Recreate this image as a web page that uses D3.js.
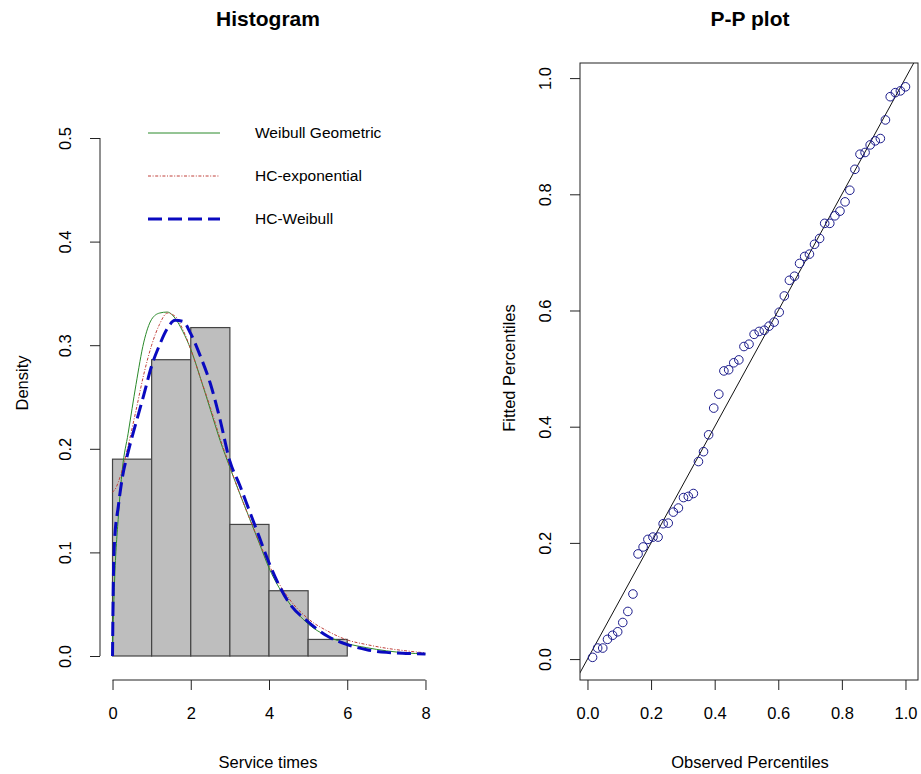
<!DOCTYPE html>
<html>
<head>
<meta charset="utf-8">
<script src="https://cdn.jsdelivr.net/npm/d3@7"></script>
<style>
    body { margin: 0; background: #fff; }
    svg text { font-family: "Liberation Sans", Arial, sans-serif; fill: #000; }
</style>
</head>
<body>
<div id="chart"></div>
<script>

// ---- histogram data (service times) ----
const histBreaks = [0, 1, 2, 3, 4, 5, 6];
const histDensity = [0.190, 0.286, 0.317, 0.127, 0.063, 0.016];

// fitted density curves
const curveX =     [0, 0.02, 0.05, 0.15, 0.25, 0.4, 0.6, 0.8, 1.0, 1.2, 1.4, 1.6, 1.8, 2.0, 2.25, 2.5, 2.75, 3.0, 3.25, 3.5, 3.75, 4.0, 4.5, 5.0, 5.5, 6.0, 6.5, 7.0, 7.5, 8.0];
const weibullGeo = [0, 0.035, 0.07, 0.135, 0.180, 0.215, 0.262, 0.303, 0.325, 0.331, 0.332, 0.326, 0.313, 0.296, 0.268, 0.238, 0.208, 0.182, 0.157, 0.133, 0.109, 0.085, 0.052, 0.031, 0.019, 0.012, 0.008, 0.005, 0.003, 0.002];
const hcExp =      [0.158, 0.159, 0.160, 0.168, 0.180, 0.203, 0.237, 0.272, 0.300, 0.320, 0.331, 0.328, 0.315, 0.296, 0.268, 0.240, 0.210, 0.183, 0.157, 0.133, 0.110, 0.088, 0.056, 0.036, 0.024, 0.0155, 0.011, 0.0075, 0.005, 0.003];
const hcWeibull =  [0, 0.07, 0.110, 0.145, 0.172, 0.197, 0.225, 0.252, 0.280, 0.300, 0.316, 0.324, 0.323, 0.311, 0.289, 0.263, 0.228, 0.188, 0.165, 0.140, 0.115, 0.090, 0.052, 0.033, 0.019, 0.011, 0.006, 0.0035, 0.0025, 0.002];

const legendLabels = ["Weibull Geometric", "HC-exponential", "HC-Weibull"];

const histXTicks = [0, 2, 4, 6, 8];
const histYTicks = [0, 0.1, 0.2, 0.3, 0.4, 0.5];

// ---- P-P plot data ----
const observedPct = [0.016, 0.032, 0.048, 0.063, 0.079, 0.095, 0.111, 0.127, 0.143, 0.159,
    0.175, 0.190, 0.206, 0.222, 0.238, 0.254, 0.270, 0.286, 0.302, 0.317,
    0.333, 0.349, 0.365, 0.381, 0.397, 0.413, 0.429, 0.444, 0.460, 0.476,
    0.492, 0.508, 0.524, 0.540, 0.556, 0.571, 0.587, 0.603, 0.619, 0.635,
    0.651, 0.667, 0.683, 0.698, 0.714, 0.730, 0.746, 0.762, 0.778, 0.794,
    0.810, 0.825, 0.841, 0.857, 0.873, 0.889, 0.905, 0.921, 0.937, 0.952,
    0.968, 0.984, 1.000];
const fittedPct = [0.003, 0.019, 0.019, 0.034, 0.041, 0.047, 0.063, 0.082, 0.112, 0.181,
    0.193, 0.206, 0.210, 0.210, 0.233, 0.234, 0.253, 0.260, 0.278, 0.280,
    0.285, 0.340, 0.357, 0.386, 0.432, 0.456, 0.496, 0.498, 0.510, 0.515,
    0.538, 0.542, 0.559, 0.564, 0.566, 0.573, 0.580, 0.597, 0.625, 0.652,
    0.659, 0.681, 0.693, 0.697, 0.714, 0.724, 0.750, 0.750, 0.763, 0.771,
    0.787, 0.807, 0.843, 0.869, 0.872, 0.885, 0.892, 0.896, 0.928, 0.968,
    0.975, 0.978, 0.985];

const ppTicks = [0, 0.2, 0.4, 0.6, 0.8, 1.0];

const W = 921, H = 774;
const svg = d3.select("#chart").append("svg")
    .attr("width", W)
    .attr("height", H);

const tickFont = 16.5, labFont = 16.5, titleFont = 21;

function rotateYLabels(g) {
    g.selectAll(".tick text")
        .attr("text-anchor", "middle")
        .attr("transform", "rotate(-90)")
        .attr("x", 0)
        .attr("y", -35)
        .attr("dy", "0.35em");
}

/*
 * Left panel: histogram + fitted densities
 */
const hist = {left: 100, right: 438, top: 62, bottom: 680};

const hx = d3.scaleLinear().domain([-0.32, 8.32]).range([hist.left, hist.right]);
const hy = d3.scaleLinear().domain([0, 0.5]).range([656, 138]);

const gHist = svg.append("g");

// bars
gHist.selectAll(".bar")
    .data(histDensity)
    .enter().append("rect")
    .attr("class", "bar")
    .attr("x", (d, i) => hx(histBreaks[i]))
    .attr("width", (d, i) => hx(histBreaks[i + 1]) - hx(histBreaks[i]))
    .attr("y", d => hy(d))
    .attr("height", d => hy(0) - hy(d))
    .attr("fill", "#bebebe")
    .attr("stroke", "#444")
    .attr("stroke-width", 1.2);

const densLine = d3.line()
    .x(d => hx(d[0]))
    .y(d => hy(d[1]))
    .curve(d3.curveMonotoneX);

const series = [
    {vals: weibullGeo, color: "#2a8a2a", width: 1, dash: null},
    {vals: hcExp, color: "#c0403a", width: 1, dash: "3,1.6,1,1.6"},
    {vals: hcWeibull, color: "#0a0ac0", width: 3, dash: "14,6"}
];

series.forEach(s => {
    gHist.append("path")
        .datum(curveX.map((x, i) => [x, s.vals[i]]))
        .attr("fill", "none")
        .attr("stroke", s.color)
        .attr("stroke-width", s.width)
        .attr("stroke-dasharray", s.dash)
        .attr("d", densLine);
});

// axes
const hxAxis = gHist.append("g")
    .attr("transform", `translate(0,${hist.bottom})`)
    .call(d3.axisBottom(hx).tickValues(histXTicks).tickFormat(d3.format("d")).tickSize(10).tickSizeOuter(0).tickPadding(17));
hxAxis.select(".domain").attr("d", `M${hx(0)},0H${hx(8)}`);

const hyAxis = gHist.append("g")
    .attr("transform", `translate(${hist.left},0)`)
    .call(d3.axisLeft(hy).tickValues(histYTicks).tickFormat(d3.format(".1f")).tickSize(10).tickSizeOuter(0))
    .call(rotateYLabels);
hyAxis.select(".domain").attr("d", `M0,${hy(0)}V${hy(0.5)}`);

[hxAxis, hyAxis].forEach(a => {
    a.selectAll("text").style("font-size", tickFont + "px");
    a.selectAll("line, path").attr("stroke", "#222");
});

// legend
const legend = gHist.append("g");
legend.selectAll("line")
    .data(series)
    .enter().append("line")
    .attr("x1", 148).attr("x2", 220)
    .attr("y1", (d, i) => 133 + i * 43)
    .attr("y2", (d, i) => 133 + i * 43)
    .attr("stroke", d => d.color)
    .attr("stroke-width", d => d.width)
    .attr("stroke-dasharray", d => d.dash);
legend.selectAll("text")
    .data(legendLabels)
    .enter().append("text")
    .attr("x", 255)
    .attr("y", (d, i) => 133 + i * 43)
    .attr("dy", "0.35em")
    .style("font-size", "15.5px")
    .text(d => d);

// titles
gHist.append("text")
    .attr("x", 268).attr("y", 26)
    .attr("text-anchor", "middle")
    .style("font-size", titleFont + "px")
    .style("font-weight", "bold")
    .text("Histogram");
gHist.append("text")
    .attr("x", 268).attr("y", 768)
    .attr("text-anchor", "middle")
    .style("font-size", labFont + "px")
    .text("Service times");
gHist.append("text")
    .attr("transform", "translate(28,383) rotate(-90)")
    .attr("text-anchor", "middle")
    .style("font-size", labFont + "px")
    .text("Density");

/*
 * Right panel: P-P plot
 */
const pp = {left: 580, right: 918, top: 63, bottom: 680};

const px = d3.scaleLinear().domain([-0.0235, 1.0394]).range([pp.left, pp.right]);
const py = d3.scaleLinear().domain([-0.036, 1.026]).range([pp.bottom, pp.top]);

const gPP = svg.append("g");

gPP.append("clipPath").attr("id", "ppclip")
    .append("rect")
    .attr("x", pp.left).attr("y", pp.top)
    .attr("width", pp.right - pp.left).attr("height", pp.bottom - pp.top);

// reference line y = x
gPP.append("line")
    .attr("clip-path", "url(#ppclip)")
    .attr("x1", px(-0.1)).attr("y1", py(-0.1))
    .attr("x2", px(1.1)).attr("y2", py(1.1))
    .attr("stroke", "#111")
    .attr("stroke-width", 1);

gPP.selectAll("circle")
    .data(observedPct)
    .enter().append("circle")
    .attr("cx", d => px(d))
    .attr("cy", (d, i) => py(fittedPct[i]))
    .attr("r", 4.3)
    .attr("fill", "none")
    .attr("stroke", "#1c1c8c")
    .attr("stroke-width", 1);

gPP.append("rect")
    .attr("x", pp.left).attr("y", pp.top)
    .attr("width", pp.right - pp.left).attr("height", pp.bottom - pp.top)
    .attr("fill", "none")
    .attr("stroke", "#222");

const pxAxis = gPP.append("g")
    .attr("transform", `translate(0,${pp.bottom})`)
    .call(d3.axisBottom(px).tickValues(ppTicks).tickFormat(d3.format(".1f")).tickSize(10).tickSizeOuter(0).tickPadding(17));
pxAxis.select(".domain").remove();

const pyAxis = gPP.append("g")
    .attr("transform", `translate(${pp.left},0)`)
    .call(d3.axisLeft(py).tickValues(ppTicks).tickFormat(d3.format(".1f")).tickSize(10).tickSizeOuter(0))
    .call(rotateYLabels);
pyAxis.select(".domain").remove();

[pxAxis, pyAxis].forEach(a => {
    a.selectAll("text").style("font-size", tickFont + "px");
    a.selectAll("line").attr("stroke", "#222");
});

gPP.append("text")
    .attr("x", 750).attr("y", 26)
    .attr("text-anchor", "middle")
    .style("font-size", titleFont + "px")
    .style("font-weight", "bold")
    .text("P-P plot");
gPP.append("text")
    .attr("x", 750).attr("y", 768)
    .attr("text-anchor", "middle")
    .style("font-size", labFont + "px")
    .text("Observed Percentiles");
gPP.append("text")
    .attr("transform", "translate(515,368) rotate(-90)")
    .attr("text-anchor", "middle")
    .style("font-size", labFont + "px")
    .text("Fitted Percentiles");

</script>
</body>
</html>
